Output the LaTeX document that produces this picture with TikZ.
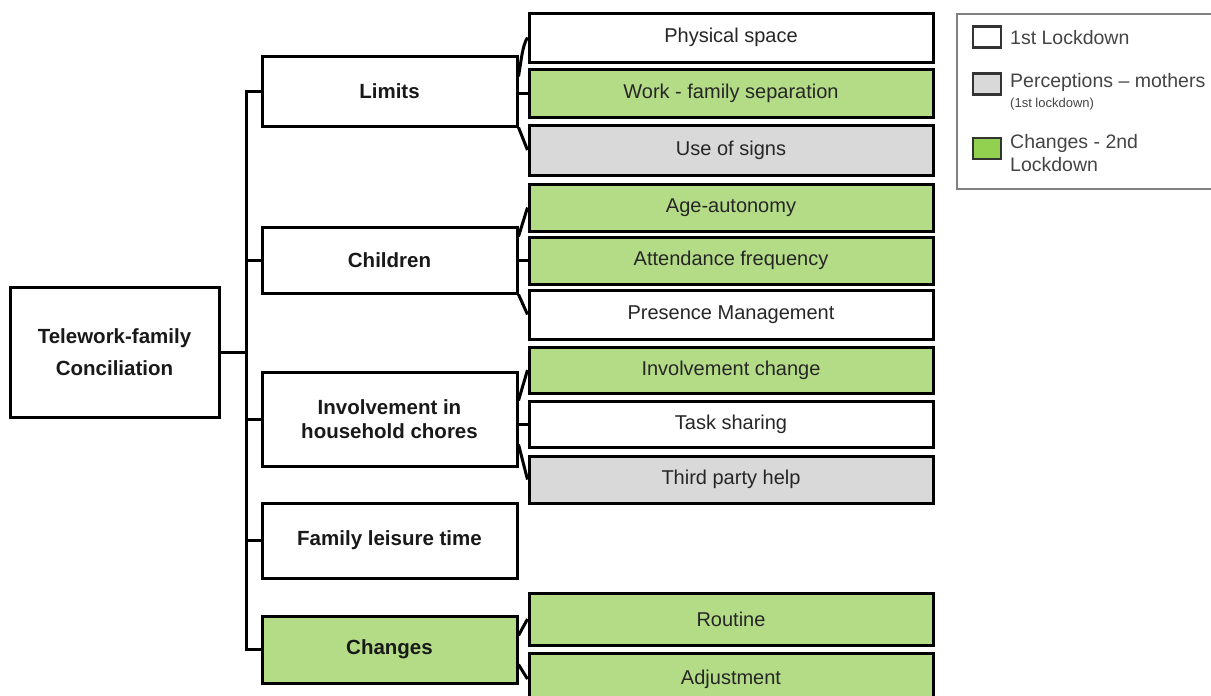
\documentclass[tikz,border=0pt]{standalone}
\usepackage{fontspec}
\setmainfont{Liberation Sans}
\definecolor{gfill}{HTML}{B4DC87}
\definecolor{gyfill}{HTML}{D9D9D9}
\definecolor{lgreen}{HTML}{92D050}
\definecolor{txt}{HTML}{262626}
\definecolor{legtxt}{HTML}{444444}
\definecolor{legline}{HTML}{808080}
\begin{document}
\begin{tikzpicture}[x=1pt,y=-1pt,
  box/.style={draw=black, line width=3pt, rectangle, inner sep=0pt, text=txt,
    font=\fontsize{20}{24}\selectfont},
  lone/.style={box, minimum width=255pt, align=center, text=black!90,
    font=\bfseries\fontsize{20.5}{24}\selectfont},
  ltwo/.style={box, minimum width=404pt},
  wbox/.style={fill=white},
  gbox/.style={fill=gfill},
  ybox/.style={fill=gyfill},
  conn/.style={line width=3pt},
  legsq/.style={draw=black!80, line width=2.2pt, minimum width=28pt, minimum height=21pt, inner sep=0pt},
  legtext/.style={anchor=west, inner sep=0pt, text=legtxt, align=left, font=\fontsize{19.5}{23}\selectfont}
]
\useasboundingbox (0,0) rectangle (1211,696);

% root
\node[lone, wbox, minimum width=209pt, minimum height=130pt, font=\bfseries\fontsize{20.5}{32}\selectfont] (root) at (114.5,352) {Telework-family\\Conciliation};

% level 1
\node[lone, wbox, minimum height=70pt] (lim) at (389.5,91) {Limits};
\node[lone, wbox, minimum height=66pt] (chi) at (389.5,260) {Children};
\node[lone, wbox, minimum height=94pt] (inv) at (389.5,419) {Involvement in\\household chores};
\node[lone, wbox, minimum height=75pt] (fam) at (389.5,540.5) {Family leisure time};
\node[lone, gbox, minimum height=67pt] (chg) at (389.5,649.5) {Changes};

% level 2
\node[ltwo, wbox, minimum height=49pt] (phys) at (731,37.5) {Physical space};
\node[ltwo, gbox, minimum height=48pt] (work) at (731,93) {Work - family separation};
\node[ltwo, ybox, minimum height=50pt] (signs) at (731,150) {Use of signs};
\node[ltwo, gbox, minimum height=47pt] (age) at (731,207.5) {Age-autonomy};
\node[ltwo, gbox, minimum height=47pt] (att) at (731,260.5) {Attendance frequency};
\node[ltwo, wbox, minimum height=49pt] (pres) at (731,314.5) {Presence Management};
\node[ltwo, gbox, minimum height=46pt] (invc) at (731,370) {Involvement change};
\node[ltwo, wbox, minimum height=46pt] (task) at (731,424) {Task sharing};
\node[ltwo, ybox, minimum height=47pt] (third) at (731,479.5) {Third party help};
\node[ltwo, gbox, minimum height=52pt] (rout) at (731,619) {Routine};
\node[ltwo, gbox, minimum height=52pt] (adj) at (731,679) {Adjustment};

% trunk
\coordinate (trunk) at (246,0);
\draw[conn] (lim.west) -- (lim.west -| trunk) -- (chg.west -| trunk) -- (chg.west);
\draw[conn] (root.east) -- (root.east -| trunk);
\draw[conn] (chi.west) -- (chi.west -| trunk);
\draw[conn] (inv.west) -- (inv.west -| trunk);
\draw[conn] (fam.west) -- (fam.west -| trunk);

% limits group
\draw[conn] ([yshift=-22pt]lim.north east) .. controls +(3,-18) and +(-5,8) .. (phys.west);
\draw[conn] (work.west -| lim.east) -- (work.west);
\draw[conn] (lim.south east) -- (signs.west);
% children group
\draw[conn] ([yshift=-11pt]chi.north east) -- (age.west);
\draw[conn] (att.west -| chi.east) -- (att.west);
\draw[conn] (chi.south east) -- (pres.west);
% involvement group
\draw[conn] ([yshift=-30pt]inv.north east) -- (invc.west);
\draw[conn] (task.west -| inv.east) -- (task.west);
\draw[conn] ([yshift=23pt]inv.south east) -- (third.west);
% changes group
\draw[conn] ([yshift=-21pt]chg.north east) -- (rout.west);
\draw[conn] ([yshift=20pt]chg.south east) -- (adj.west);

% legend
\node[draw=legline, line width=2pt, minimum width=270pt, minimum height=175pt, inner sep=0pt] (legend) at (1092,101.5) {};
\node[legsq, fill=white] (sq1) at (987,37) {};
\node[legsq, fill=gyfill] (sq2) at (987,84) {};
\node[legsq, fill=lgreen] (sq3) at (987,148.5) {};
\node[legtext] (lt1) at (1010,38) {1st Lockdown};
\node[legtext, anchor=north west] (lt2) at (1010,73) {Perceptions – mothers\\[-3pt]{\fontsize{13}{15}\selectfont (1st lockdown)}};
\node[legtext, anchor=north west] (lt3) at (1010,134) {Changes - 2nd\\Lockdown};
\end{tikzpicture}
\end{document}
